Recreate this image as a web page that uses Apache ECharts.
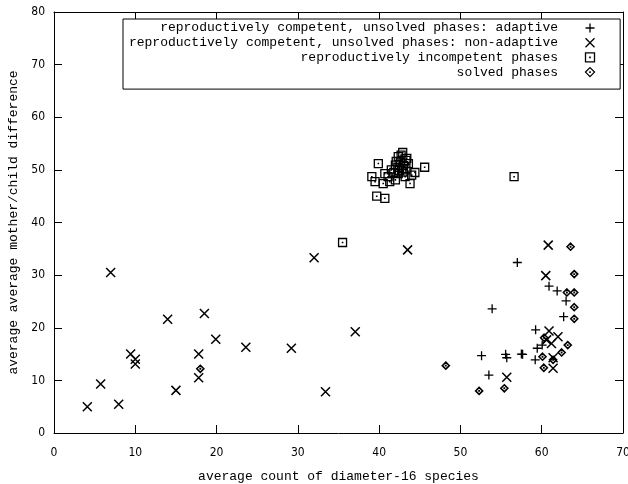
<!DOCTYPE html>
<html><head><meta charset="utf-8">
<script src="https://cdn.jsdelivr.net/npm/echarts@6/dist/echarts.min.js"></script>
<style>html,body{margin:0;padding:0;background:#fff}#c{width:628px;height:484px}</style>
</head><body><div id="c"></div>
<script>
var xTicks = [0, 10, 20, 30, 40, 50, 60, 70];
var yTicks = [0, 10, 20, 30, 40, 50, 60, 70, 80];
var seriesNames = [
  'reproductively competent, unsolved phases: adaptive',
  'reproductively competent, unsolved phases: non-adaptive',
  'reproductively incompetent phases',
  'solved phases'
];
var adaptive = [[57.0,32.4],[60.9,27.9],[61.9,27.0],[63.0,25.1],[53.9,23.6],[62.7,22.1],[59.25,19.6],[60.06,16.7],[59.45,16.1],[57.65,14.95],[59.2,13.9],[52.6,14.7],[55.56,14.95],[55.7,14.3],[57.5,15.0],[53.5,11.0]];
var nonAdaptive = [[6.97,30.5],[13.98,21.6],[18.5,22.7],[19.9,17.8],[23.6,16.3],[9.43,15.0],[10.0,14.0],[10.0,13.1],[17.8,15.0],[17.8,10.5],[5.74,9.3],[15.0,8.1],[4.1,5.0],[7.96,5.45],[32.0,33.3],[43.5,34.8],[37.06,19.25],[29.2,16.1],[33.4,7.85],[55.7,10.6],[60.8,35.7],[60.5,29.9],[60.9,19.4],[62.0,18.3],[60.6,17.7],[61.2,17.0],[61.4,14.3],[61.4,12.3]];
var incompetent = [[35.5,36.2],[56.6,48.7],[42.9,53.3],[42.35,52.5],[43.4,52.2],[43.6,51.2],[39.9,51.2],[45.6,50.5],[42.0,50.9],[42.8,50.3],[41.5,50.0],[44.4,49.5],[44.0,49.0],[40.7,49.3],[42.35,49.3],[43.2,48.7],[39.1,48.7],[39.5,47.75],[40.5,47.4],[41.3,47.75],[43.8,47.4],[39.7,45.0],[40.7,44.6],[42.0,48.1],[41.1,48.7],[42.6,51.5],[42.95,49.6],[42.3,50.5],[43.0,50.8],[42.5,49.9],[43.3,51.8],[41.8,49.5],[42.7,52.8],[43.3,50.0],[42.1,51.6]];
var solved = [[63.55,35.4],[64.0,30.2],[63.1,26.7],[64.0,26.7],[64.0,23.9],[64.0,21.7],[60.3,18.1],[63.2,16.7],[62.45,15.3],[60.1,14.5],[61.4,13.9],[60.26,12.4],[52.3,8.0],[55.4,8.5],[48.2,12.8],[18.0,12.2]];

var SYM_PLUS = 'path://M0,5L10,5M5,0L5,10';
var SYM_X = 'path://M0,0L10,10M10,0L0,10';
var SYM_SQ = 'path://M0,0L10,0L10,10L0,10ZM4.8,4.8L5.2,4.8L5.2,5.2L4.8,5.2Z';
var SYM_DI = 'path://M5,0L10,5L5,10L0,5ZM4.8,4.8L5.2,4.8L5.2,5.2L4.8,5.2Z';

var mono = "'Liberation Mono', 'DejaVu Sans Mono', monospace";
var cond = "'DejaVu Sans Condensed', 'Liberation Sans Narrow', 'DejaVu Sans', sans-serif";

function mkSeries(name, data, sym, size, lw) {
  return {
    name: name, type: 'scatter', data: data, symbol: sym, symbolSize: size,
    xAxisIndex: 0, yAxisIndex: 0,
    itemStyle: { color: 'transparent', borderColor: '#000', borderWidth: lw, opacity: 1 },
    emphasis: { disabled: true }, animation: false
  };
}
function axisCommon(extra) {
  var o = {
    type: 'value', min: 0, interval: 10,
    axisLine: { show: true, onZero: false, lineStyle: { color: '#000', width: 1 } },
    axisTick: { show: true, inside: true, length: 8, lineStyle: { color: '#000', width: 1 } },
    splitLine: { show: false },
    axisLabel: { show: true, color: '#000', fontFamily: cond, fontSize: 12 }
  };
  for (var k in extra) o[k] = extra[k];
  return o;
}
var chart = echarts.init(document.getElementById('c'), null, { renderer: 'canvas' });
chart.setOption({
  animation: false,
  backgroundColor: '#fff',
  grid: { left: 54, right: 5, top: 12, bottom: 51, containLabel: false, outerBoundsMode: 'none' },
  legend: {
    orient: 'vertical', left: 123, top: 19, align: 'right',
    data: seriesNames.map(function (n, i) {
      return { name: n, icon: [SYM_PLUS, SYM_X, SYM_SQ, SYM_DI][i] };
    }),
    itemWidth: 54, itemHeight: 9, itemGap: 0.7,
    padding: [2, 25, 10, 5],
    borderColor: '#000', borderWidth: 1, backgroundColor: '#fff',
    selectedMode: false,
    itemStyle: { color: 'transparent', borderColor: '#000', borderWidth: 1.3 },
    textStyle: { fontFamily: mono, fontSize: 13, color: '#000', width: 430, align: 'right', lineHeight: 14 }
  },
  xAxis: [
    axisCommon({ position: 'bottom', max: 70, name: 'average count of diameter-16 species',
      nameLocation: 'middle', nameGap: 37, nameTextStyle: { fontFamily: mono, fontSize: 13, color: '#000' },
      axisLabel: { show: true, color: '#000', fontFamily: cond, fontSize: 12, margin: 14 } }),
    axisCommon({ position: 'top', max: 70, axisLabel: { show: false } })
  ],
  yAxis: [
    axisCommon({ position: 'left', max: 80, name: 'average average mother/child difference',
      nameLocation: 'middle', nameGap: 34, nameTextStyle: { fontFamily: mono, fontSize: 13, color: '#000' },
      axisLabel: { show: true, color: '#000', fontFamily: cond, fontSize: 12, margin: 9 } }),
    axisCommon({ position: 'right', max: 80, axisLabel: { show: false } })
  ],
  series: [
    mkSeries(seriesNames[0], adaptive, SYM_PLUS, 9, 1.3),
    mkSeries(seriesNames[1], nonAdaptive, SYM_X, 9, 1.5),
    mkSeries(seriesNames[2], incompetent, SYM_SQ, 8, 1.3),
    mkSeries(seriesNames[3], solved, SYM_DI, 7, 1.6)
  ]
});
</script></body></html>
